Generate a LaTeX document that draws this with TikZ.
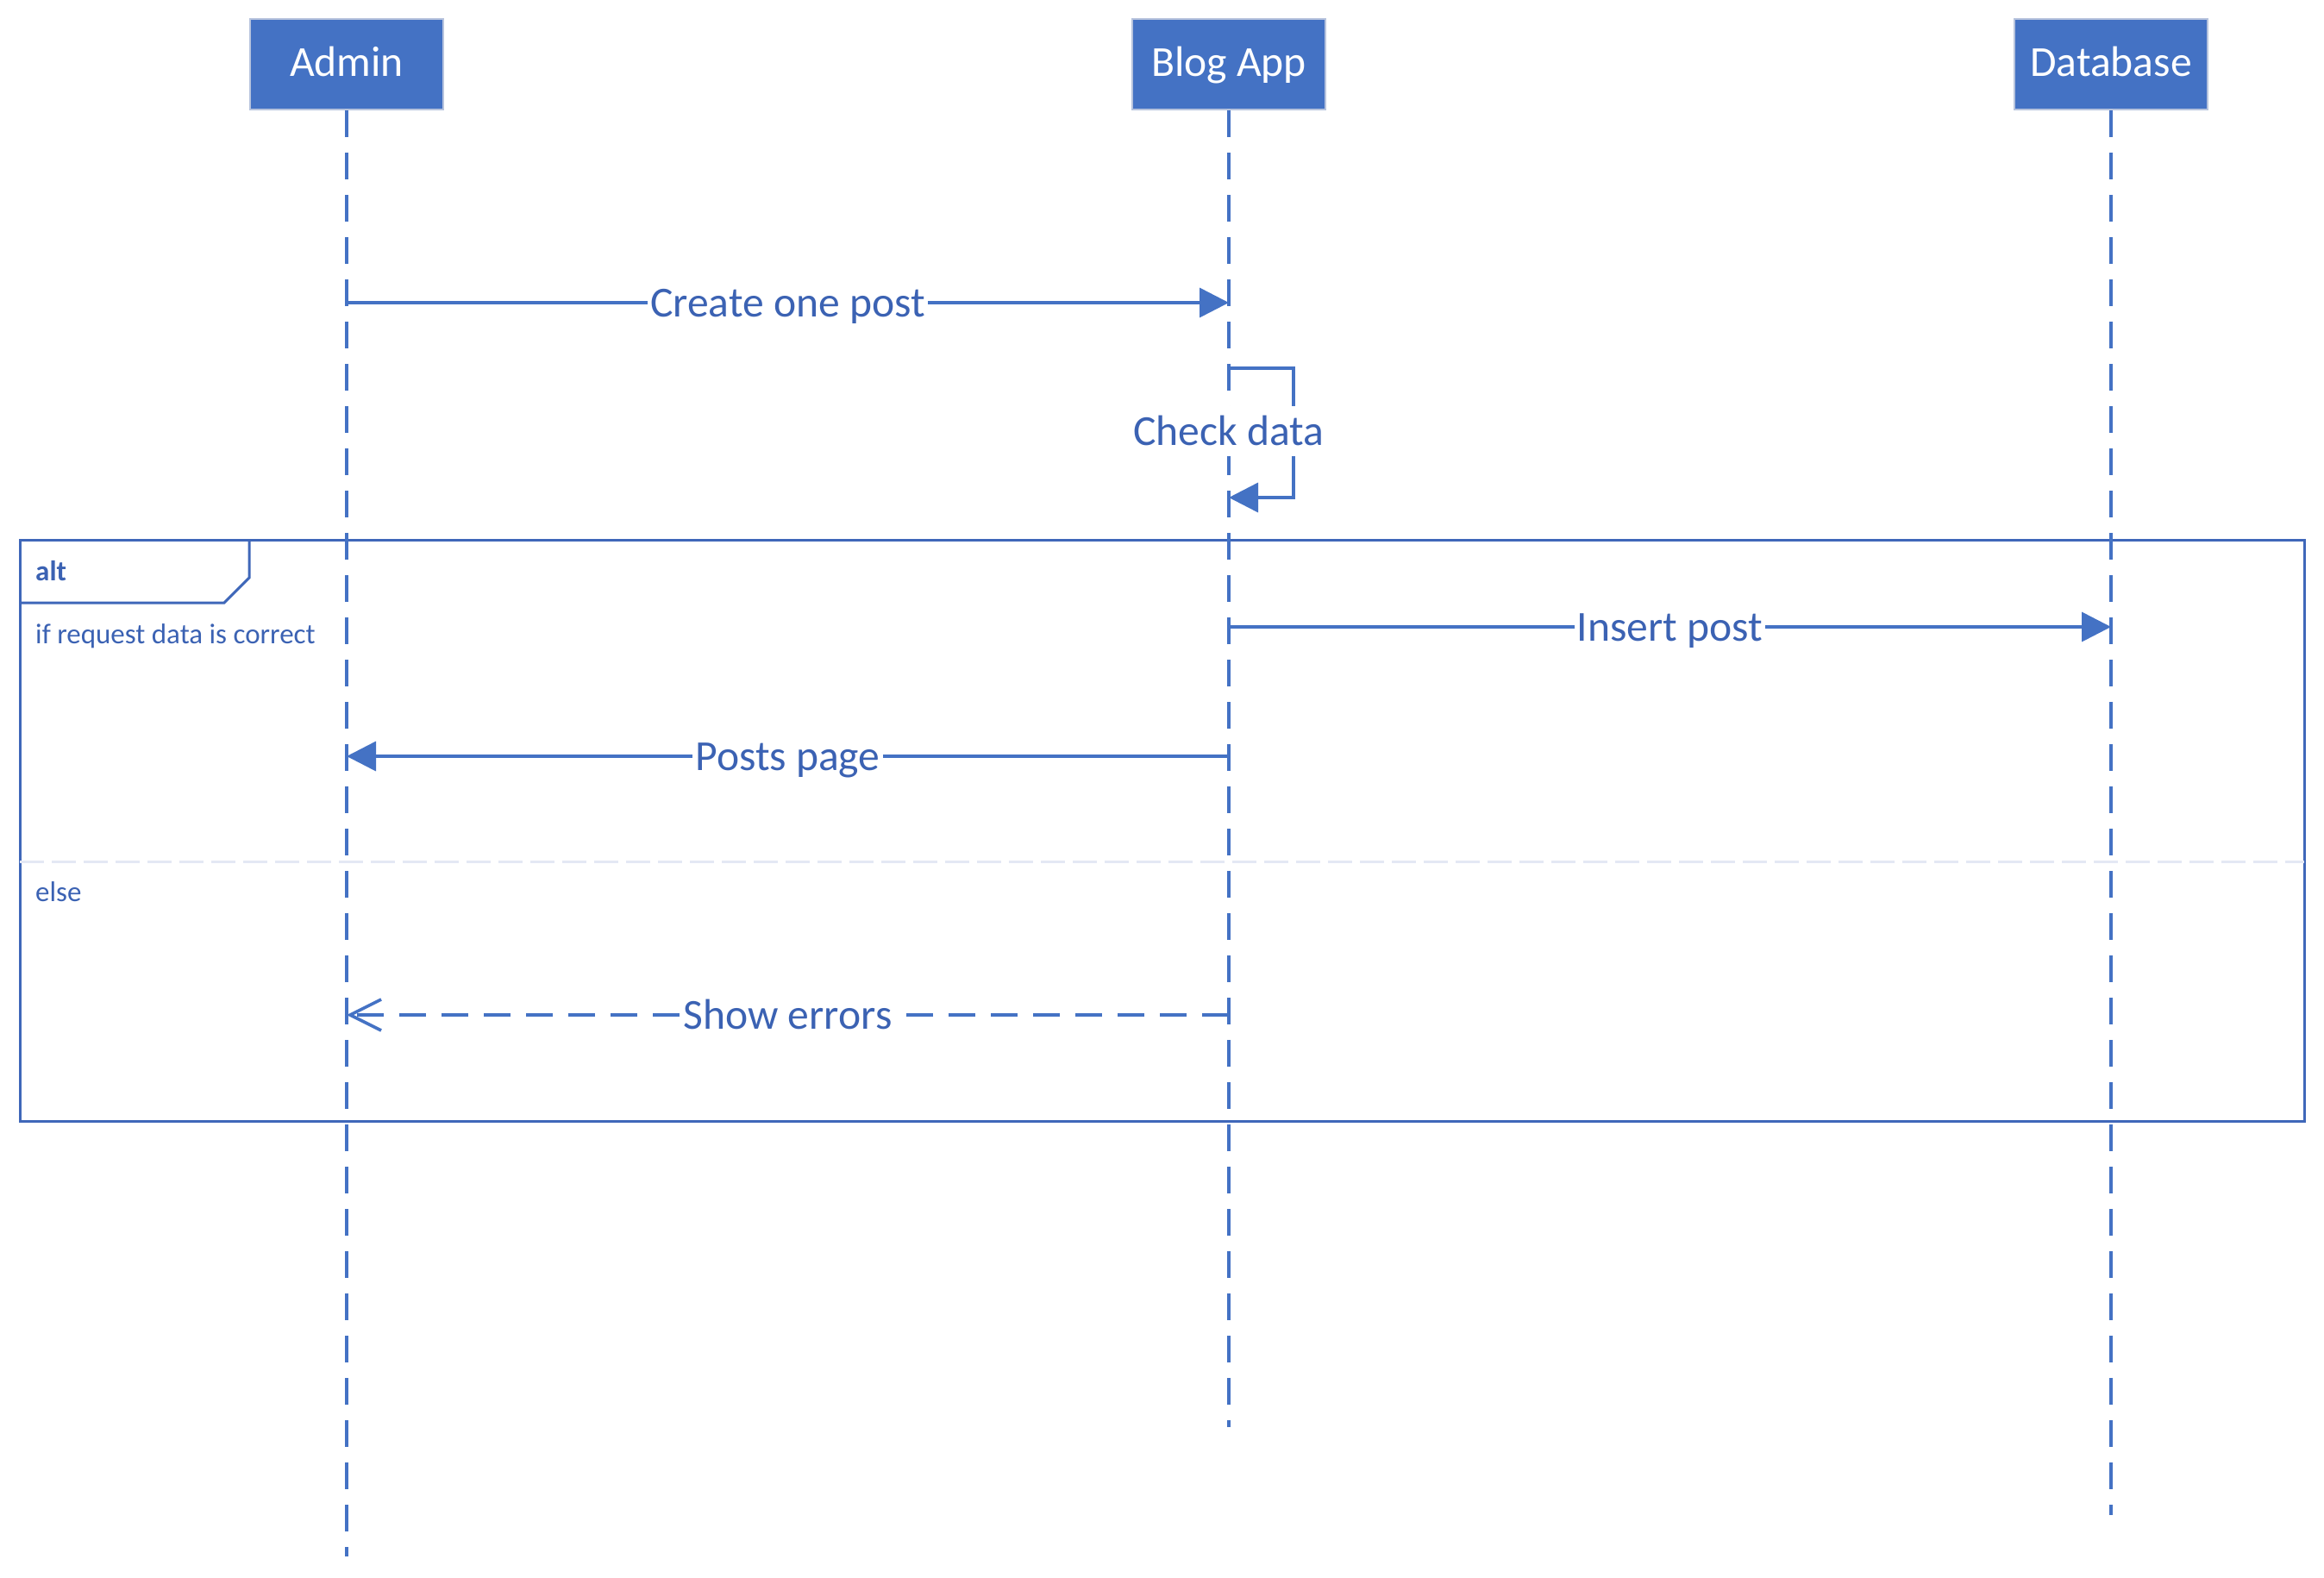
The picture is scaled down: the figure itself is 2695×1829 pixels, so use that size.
\documentclass[tikz,border=0pt]{standalone}
\usepackage{fontspec}
\setmainfont{Carlito}
\usetikzlibrary{arrows.meta}
\definecolor{ln}{HTML}{4472C4}
\definecolor{fr}{HTML}{3F67B9}
\definecolor{tx}{HTML}{3B62B3}
\definecolor{sepc}{HTML}{E4E8F4}
\definecolor{boxedge}{HTML}{B7C3DD}
\begin{document}
\begin{tikzpicture}[x=1pt,y=-1pt,
  actor/.style={draw=boxedge, line width=1.5pt, fill=ln, text=white, minimum width=224pt, minimum height=105pt, inner sep=0pt, text height=38pt, text depth=11pt, font=\fontsize{49.6}{60}\selectfont},
  lifeline/.style={draw=ln, line width=3.6pt, dash pattern=on 31pt off 18pt},
  msg/.style={draw=ln, line width=3.6pt, -{Triangle[length=34pt,width=34pt]}},
  reply/.style={draw=ln, line width=3.6pt, dash pattern=on 31pt off 18pt, -{Straight Barb[length=36pt,width=36pt]}},
  lbl/.style={fill=white, text=tx, inner sep=3pt, text height=42pt, text depth=10pt, font=\fontsize{49.6}{60}\selectfont},
  small/.style={text=tx, inner sep=0pt, anchor=base west, font=\fontsize{33}{40}\selectfont},
  frame/.style={draw=fr, line width=3pt},
  separator/.style={draw=sepc, line width=3pt, dash pattern=on 28pt off 9pt}]
\useasboundingbox (0,0) rectangle (2695,1829);

% actors
\node[actor] (admin) at (402,74.5) {Admin};
\node[actor] (blog) at (1425,74.5) {Blog App};
\node[actor] (db) at (2448,74.5) {Database};

% lifeline ends
\coordinate (adminEnd) at (402,1805);
\coordinate (blogEnd) at (1425,1655);
\coordinate (dbEnd) at (2448,1757);

% alt frame
\coordinate (frTL) at (23,626);
\coordinate (frBR) at (2672,1300);
\draw[frame] (frTL) rectangle (frBR);
\coordinate (tabA) at (23,699);
\coordinate (tabB) at (260,699);
\coordinate (tabC) at (289,670);
\coordinate (tabD) at (289,626);
\draw[frame] (tabA) -- (tabB) -- (tabC) -- (tabD);
\coordinate (sepL) at (23,999);
\coordinate (sepR) at (2672,999);
\draw[separator] (sepL) -- (sepR);
\node[small, font=\fontsize{33}{40}\selectfont\bfseries] (alt) at (41,673) {alt};
\node[small] (guard1) at (41,746) {if request data is correct};
\node[small] (guard2) at (41,1045) {else};

% lifelines
\draw[lifeline] (admin.south) -- (adminEnd);
\draw[lifeline] (blog.south) -- (blogEnd);
\draw[lifeline] (db.south) -- (dbEnd);

% message anchor points
\coordinate (m1s) at (402,351);
\coordinate (m1e) at (1425,351);
\coordinate (s1) at (1425,427);
\coordinate (s2) at (1500,427);
\coordinate (s3) at (1500,577);
\coordinate (s4) at (1425,577);
\coordinate (m3s) at (1425,727);
\coordinate (m3e) at (2448,727);
\coordinate (m4s) at (1425,877);
\coordinate (m4e) at (402,877);
\coordinate (m5s) at (1425,1177);
\coordinate (m5e) at (402,1177);

% messages
\draw[msg] (m1s) -- node[lbl] (l1) {Create one post} (m1e);
\draw[msg] (s1) -- (s2) -- (s3) -- (s4);
\node[lbl] (l2) at (1425,500) {Check data};
\draw[msg] (m3s) -- node[lbl] (l3) {Insert post} (m3e);
\draw[msg] (m4s) -- node[lbl] (l4) {Posts page} (m4e);
\draw[reply] (m5s) -- node[lbl] (l5) {Show errors} (m5e);
\end{tikzpicture}
\end{document}
